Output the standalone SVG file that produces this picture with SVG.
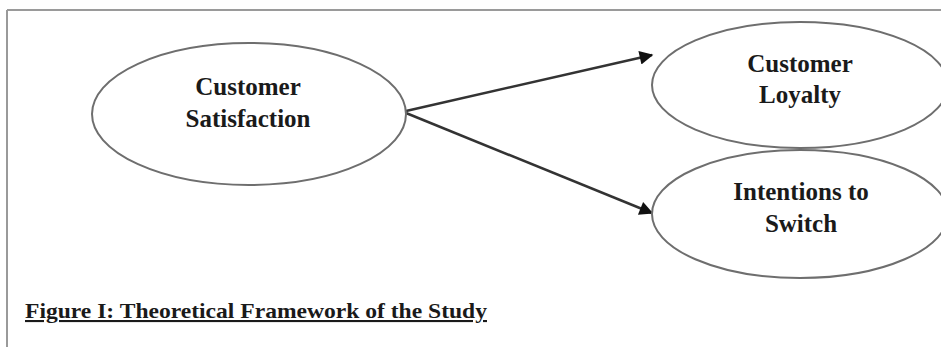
<svg xmlns="http://www.w3.org/2000/svg" width="941" height="347" viewBox="0 0 941 347">
<style>
.node ellipse{fill:#fff;stroke:#6e6e6e;stroke-width:2}
.lbl{font-family:"Liberation Serif","Times New Roman",serif;font-weight:bold;font-size:25px;fill:#1a1a1a;text-anchor:middle}
.edge{stroke:#333;stroke-width:2.5;fill:none;marker-end:url(#ah)}
.cap{font-family:"Liberation Serif","Times New Roman",serif;font-weight:bold;font-size:21px;fill:#1a1a1a;text-decoration:underline}
</style>
<defs>
<marker id="ah" viewBox="0 0 10 10" refX="9" refY="5" markerWidth="6.5" markerHeight="5.5" markerUnits="strokeWidth" orient="auto">
<path d="M0,0 L10,5 L0,10 z" fill="#111"/>
</marker>
</defs>
<rect width="941" height="347" fill="#fff"/>
<g id="frame" stroke="#9a9a9a" stroke-width="2" fill="none">
<line x1="7" y1="10" x2="941" y2="10"/>
<line x1="7" y1="10" x2="7" y2="347"/>
</g>
<g id="connectors">
<line class="edge" x1="406" y1="111" x2="652" y2="55"/>
<line class="edge" x1="406" y1="113" x2="652" y2="213"/>
</g>
<g id="n-satisfaction" class="node">
<ellipse cx="249" cy="114" rx="157" ry="71"/>
<text class="lbl" x="248" y="95">Customer</text>
<text class="lbl" x="248" y="127">Satisfaction</text>
</g>
<g id="n-loyalty" class="node">
<ellipse cx="800" cy="85" rx="148" ry="63"/>
<text class="lbl" x="800" y="72">Customer</text>
<text class="lbl" x="800" y="103">Loyalty</text>
</g>
<g id="n-switch" class="node">
<ellipse cx="800" cy="214" rx="148" ry="64"/>
<text class="lbl" x="801" y="200">Intentions to</text>
<text class="lbl" x="801" y="232">Switch</text>
</g>
<text class="cap" x="25" y="318" textLength="462" lengthAdjust="spacingAndGlyphs">Figure I: Theoretical Framework of the Study</text>
</svg>
